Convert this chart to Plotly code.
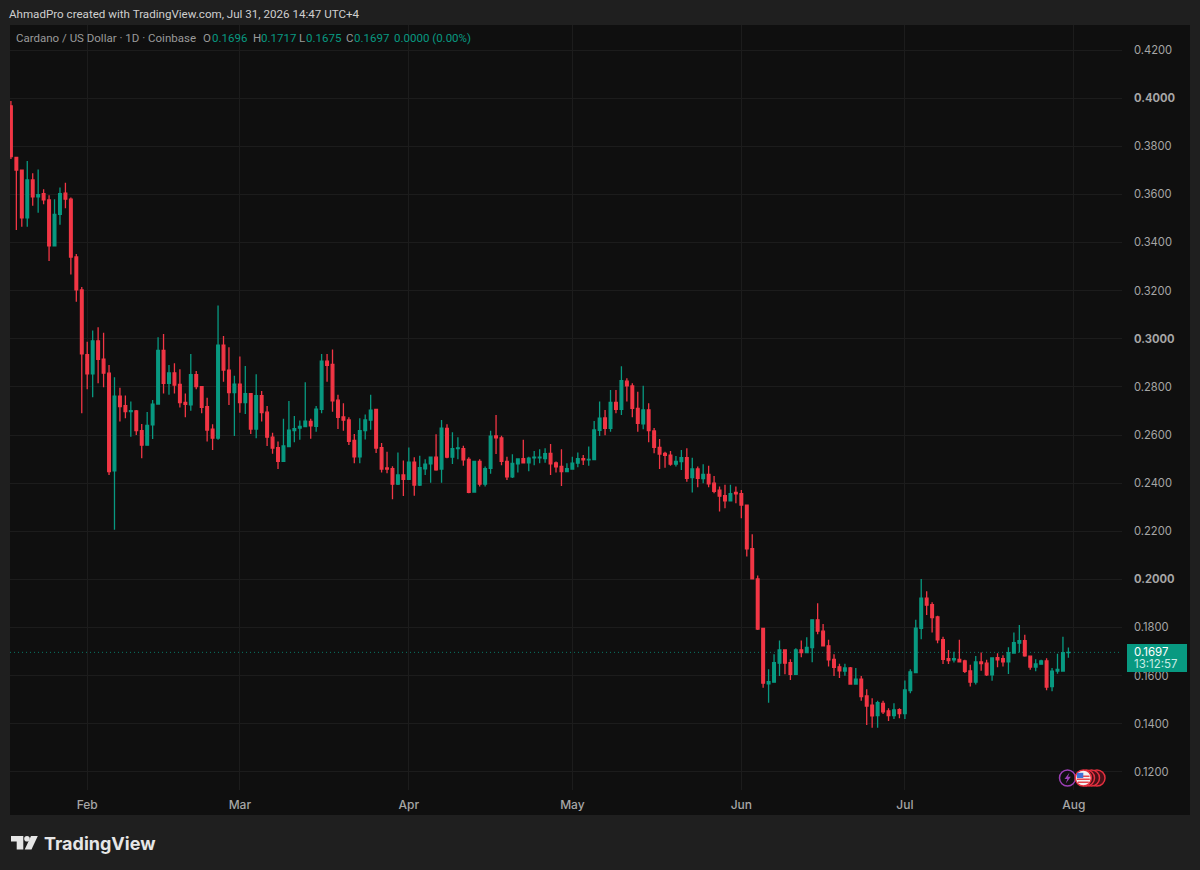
import pandas as pd
import plotly.graph_objects as go

first_day = "2026-01-18"

opens = [
    .3968, .3754, .3701, .3503, .3660, .3590, .3603, .3577, .3386, .3517,
    .3605, .3580, .3340, .3203, .2934, .2854, .2991, .2915, .2857, .2451,
    .2762, .2722, .2697, .2700, .2618, .2558, .2642, .2729, .2952, .2815,
    .2858, .2811, .2736, .2726, .2851, .2801, .2718, .2625, .2587, .2974,
    .2870, .2776, .2812, .2735, .2772, .2625, .2764, .2695, .2591, .2548,
    .2491, .2552, .2618, .2629, .2635, .2657, .2636, .2707, .2907, .2894,
    .2745, .2675, .2663, .2578, .2509, .2618, .2662, .2707, .2548, .2463,
    .2460, .2396, .2434, .2416, .2487, .2392, .2460, .2480, .2508, .2459,
    .2628, .2508, .2544, .2544, .2499, .2363, .2490, .2396, .2462, .2596,
    .2588, .2491, .2426, .2480, .2502, .2485, .2505, .2505, .2502, .2524,
    .2484, .2470, .2448, .2459, .2483, .2502, .2497, .2498, .2620, .2671,
    .2628, .2736, .2707, .2824, .2804, .2711, .2647, .2705, .2617, .2549,
    .2524, .2517, .2479, .2490, .2506, .2423, .2459, .2419, .2436, .2400,
    .2371, .2348, .2327, .2362, .2356, .2309, .2128, .2002, .1797, .1566,
    .1573, .1652, .1707, .1654, .1606, .1707, .1696, .1717, .1832, .1785,
    .1724, .1668, .1637, .1619, .1632, .1565, .1586, .1516, .1478, .1434,
    .1485, .1454, .1434, .1459, .1442, .1538, .1613, .1797, .1922, .1895,
    .1844, .1750, .1671, .1666, .1668, .1661, .1620, .1573, .1657, .1652,
    .1604, .1675, .1671, .1658, .1694, .1735, .1746, .1681, .1636, .1648,
    .1661, .1555, .1619, .1619, .1696,
]
highs = [
    .3988, .3755, .3702, .3739, .3688, .3704, .3621, .3597, .3580, .3629,
    .3648, .3587, .3352, .3215, .2988, .3034, .3048, .3025, .2891, .2840,
    .2797, .2764, .2739, .2704, .2646, .2696, .2746, .3006, .3020, .2891,
    .2898, .2873, .2773, .2937, .2866, .2804, .2755, .2645, .3138, .3012,
    .2965, .2846, .2926, .2887, .2774, .2853, .2783, .2721, .2610, .2573,
    .2668, .2742, .2679, .2660, .2819, .2668, .2721, .2937, .2937, .2956,
    .2767, .2732, .2674, .2604, .2670, .2685, .2768, .2707, .2567, .2531,
    .2470, .2527, .2494, .2548, .2508, .2514, .2499, .2508, .2603, .2663,
    .2645, .2612, .2591, .2556, .2508, .2490, .2499, .2469, .2618, .2683,
    .2597, .2510, .2520, .2503, .2580, .2510, .2534, .2541, .2545, .2563,
    .2490, .2541, .2483, .2510, .2527, .2517, .2552, .2658, .2739, .2704,
    .2787, .2787, .2886, .2836, .2815, .2780, .2805, .2732, .2629, .2584,
    .2531, .2534, .2513, .2538, .2545, .2506, .2469, .2479, .2472, .2430,
    .2386, .2393, .2393, .2386, .2372, .2309, .2188, .2016, .1797, .1627,
    .1689, .1746, .1707, .1668, .1714, .1746, .1760, .1835, .1901, .1815,
    .1749, .1689, .1650, .1650, .1636, .1632, .1599, .1544, .1506, .1496,
    .1496, .1465, .1485, .1465, .1580, .1627, .1832, .2002, .1951, .1905,
    .1849, .1762, .1707, .1700, .1749, .1666, .1645, .1682, .1696, .1666,
    .1675, .1693, .1685, .1718, .1779, .1811, .1770, .1681, .1668, .1666,
    .1673, .1632, .1691, .1762, .1717,
]
lows = [
    .3747, .3452, .3466, .3466, .3553, .3524, .3559, .3323, .3386, .3474,
    .3542, .3267, .3154, .2691, .2790, .2757, .2815, .2799, .2434, .2206,
    .2656, .2670, .2593, .2600, .2504, .2558, .2584, .2729, .2773, .2767,
    .2773, .2715, .2674, .2701, .2790, .2691, .2573, .2538, .2580, .2822,
    .2725, .2596, .2693, .2688, .2604, .2587, .2656, .2555, .2522, .2459,
    .2491, .2552, .2570, .2580, .2635, .2585, .2614, .2691, .2822, .2697,
    .2625, .2618, .2559, .2483, .2483, .2582, .2622, .2525, .2444, .2441,
    .2333, .2392, .2347, .2413, .2348, .2388, .2434, .2402, .2452, .2402,
    .2504, .2480, .2499, .2472, .2358, .2361, .2386, .2386, .2439, .2521,
    .2474, .2413, .2422, .2444, .2483, .2450, .2475, .2483, .2485, .2434,
    .2444, .2388, .2447, .2458, .2466, .2476, .2472, .2498, .2596, .2599,
    .2614, .2691, .2683, .2739, .2674, .2614, .2624, .2570, .2524, .2459,
    .2464, .2472, .2469, .2455, .2406, .2361, .2383, .2400, .2383, .2358,
    .2282, .2296, .2326, .2317, .2254, .2095, .2001, .1790, .1550, .1488,
    .1571, .1599, .1606, .1582, .1606, .1677, .1696, .1656, .1772, .1721,
    .1638, .1599, .1590, .1600, .1563, .1563, .1496, .1395, .1384, .1384,
    .1441, .1412, .1420, .1423, .1420, .1527, .1610, .1751, .1852, .1780,
    .1735, .1649, .1649, .1655, .1656, .1611, .1555, .1563, .1621, .1599,
    .1579, .1635, .1638, .1607, .1694, .1696, .1679, .1625, .1618, .1645,
    .1539, .1535, .1608, .1618, .1675,
]
closes = [
    .3757, .3701, .3503, .3660, .3590, .3599, .3577, .3386, .3517, .3603,
    .3580, .3340, .3203, .2937, .2854, .2991, .2915, .2857, .2448, .2762,
    .2718, .2697, .2701, .2618, .2558, .2640, .2728, .2952, .2815, .2858,
    .2808, .2735, .2728, .2851, .2801, .2715, .2621, .2587, .2974, .2870,
    .2776, .2812, .2735, .2772, .2625, .2764, .2693, .2591, .2546, .2491,
    .2555, .2620, .2627, .2636, .2658, .2638, .2708, .2907, .2890, .2742,
    .2674, .2662, .2574, .2509, .2618, .2663, .2704, .2546, .2459, .2459,
    .2396, .2434, .2416, .2487, .2392, .2465, .2479, .2508, .2455, .2629,
    .2508, .2544, .2547, .2497, .2362, .2490, .2396, .2460, .2595, .2588,
    .2491, .2426, .2482, .2501, .2484, .2504, .2508, .2508, .2523, .2480,
    .2468, .2448, .2460, .2483, .2502, .2497, .2499, .2621, .2670, .2628,
    .2736, .2707, .2826, .2804, .2711, .2649, .2705, .2618, .2549, .2521,
    .2516, .2479, .2491, .2506, .2420, .2459, .2420, .2436, .2397, .2366,
    .2346, .2327, .2356, .2356, .2309, .2127, .2002, .1794, .1569, .1575,
    .1654, .1707, .1652, .1606, .1707, .1696, .1718, .1832, .1785, .1724,
    .1666, .1635, .1620, .1632, .1565, .1586, .1513, .1474, .1433, .1488,
    .1450, .1434, .1458, .1442, .1541, .1616, .1798, .1922, .1893, .1841,
    .1749, .1668, .1663, .1671, .1658, .1618, .1573, .1657, .1650, .1603,
    .1674, .1666, .1658, .1696, .1737, .1746, .1682, .1636, .1649, .1661,
    .1553, .1619, .1626, .1696, .1697,
]

price_ticks = [.12, .14, .16, .18, .20, .22, .24, .26, .28, .30, .32, .34, .36, .38, .40, .42]
strong_ticks = [.20, .30, .40]
month_ticks = ["2026-02-01", "2026-03-01", "2026-04-01", "2026-05-01", "2026-06-01", "2026-07-01", "2026-08-01"]
month_labels = ["Feb", "Mar", "Apr", "May", "Jun", "Jul", "Aug"]
last_price = 0.1697
countdown = "13:12:57"

GREEN = "#089981"
RED = "#f23645"
FRAME = "#1f1f1f"
PANE = "#0f0f0f"
GRID = "#1c1c1c"
GREY = "#a6a6a6"
FONT = "Inter"

W, H = 1200, 870
LEFT, RIGHT, TOP, BOTTOM = 10, 1122, 25, 790


# helpers for things outside the data area, given in page pixels
def fx(px):
    return (px - LEFT) / (RIGHT - LEFT)


def fy(py):
    return (BOTTOM - py) / (BOTTOM - TOP)


def rect(x0, y0, x1, y1, color, layer="above"):
    return dict(type="rect", xref="paper", yref="paper", x0=fx(x0), y0=fy(y0), x1=fx(x1), y1=fy(y1),
                fillcolor=color, line_width=0, layer=layer)


def circle(cx, cy, r, fill, line, width=1.5):
    return dict(type="circle", xref="paper", yref="paper", x0=fx(cx - r), y0=fy(cy + r), x1=fx(cx + r), y1=fy(cy - r),
                fillcolor=fill, line=dict(color=line, width=width), layer="above")


def poly(points, color):
    path = "M " + " L ".join(f"{fx(a):.5f},{fy(b):.5f}" for a, b in points) + " Z"
    return dict(type="path", xref="paper", yref="paper", path=path, fillcolor=color, line_width=0, layer="above")


def label(px, py, text, size=12, color=GREY, family="Roboto", **kw):
    return dict(xref="paper", yref="paper", x=fx(px), y=fy(py), text=text, showarrow=False, xanchor="left",
                yanchor="middle", align="left", borderpad=0, borderwidth=0,
                font=dict(family=family, size=size, color=color), **kw)


dates = pd.date_range(first_day, periods=len(opens), freq="D")

fig = go.Figure()
fig.add_trace(go.Candlestick(x=dates, open=opens, high=highs, low=lows, close=closes,
                             increasing=dict(line=dict(color=GREEN, width=1.3), fillcolor=GREEN),
                             decreasing=dict(line=dict(color=RED, width=1.3), fillcolor=RED),
                             whiskerwidth=0, hoverinfo="skip", showlegend=False))

shapes = [rect(LEFT, TOP, 1190, 815, PANE, layer="below")]
shapes.append(dict(type="line", xref="paper", yref="y", x0=0, x1=1, y0=last_price, y1=last_price,
                   line=dict(color="rgba(8,153,129,0.75)", width=1, dash="1px,3px"), layer="below"))
# price tag
shapes.append(rect(1127, 644, 1187, 672, GREEN))
# events, bottom right
shapes.append(circle(1067.5, 778, 8, PANE, "#9c3fb5"))
shapes.append(poly([(1069.5, 772.5), (1064.5, 779), (1067.3, 779), (1065.8, 783.5), (1070.8, 776.8), (1068, 776.8)], "#9c3fb5"))
for cx in [1097, 1091.5, 1086.5]:
    shapes.append(circle(cx, 778, 8, "#4a1018", "#e5303f"))
shapes.append(circle(1083.3, 778, 8, "#f2f2f2", "#e5303f"))
shapes.append(rect(1077, 775.5, 1089.5, 777, "#e5464f"))
shapes.append(rect(1077, 778.5, 1089.8, 780, "#e5464f"))
shapes.append(rect(1078, 781.5, 1088.8, 783, "#e5464f"))
shapes.append(rect(1077, 772.8, 1083.3, 778, "#3c6fd6"))
# logo
shapes.append(poly([(11, 836), (23.3, 836), (23.3, 849.5), (16.7, 849.5), (16.7, 841.5), (11, 841.5)], "#e6e6e6"))
shapes.append(circle(27, 838.8, 2.8, "#e6e6e6", "#e6e6e6", 0))
shapes.append(poly([(31, 836), (37.8, 836), (31.5, 849.5), (24.7, 849.5)], "#e6e6e6"))

LEG = 11.5
annotations = [
    label(9, 14, "AhmadPro created with TradingView.com, Jul 31, 2026 14:47 UTC+4", size=11.6, color="#cfcfcf"),
    label(16, 38, "Cardano / US Dollar · 1D · Coinbase", size=LEG, color="#9a9a9a"),
    label(203, 38, "O", size=LEG, color="#9a9a9a"),
    label(212, 38, "0.1696", size=LEG, color=GREEN),
    label(253, 38, "H", size=LEG, color="#9a9a9a"),
    label(261, 38, "0.1717", size=LEG, color=GREEN),
    label(299, 38, "L", size=LEG, color="#9a9a9a"),
    label(306, 38, "0.1675", size=LEG, color=GREEN),
    label(346, 38, "C", size=LEG, color="#9a9a9a"),
    label(354, 38, "0.1697", size=LEG, color=GREEN),
    label(394, 38, "0.0000 (0.00%)", size=LEG, color=GREEN),
    label(1134, 651, f"{last_price:.4f}", size=11.5, color="#ffffff", family=FONT, height=11),
    label(1134, 663.5, countdown, size=11.5, color="#c9ece5", family=FONT, height=11),
    label(44, 843, "<b>TradingView</b>", size=18, color="#e6e6e6", family=FONT),
]

fig.update_layout(
    width=W, height=H,
    margin=dict(l=LEFT, r=W - RIGHT, t=TOP, b=H - BOTTOM, pad=0),
    paper_bgcolor=FRAME, plot_bgcolor=PANE,
    font=dict(family=FONT, size=12, color=GREY),
    showlegend=False, hovermode=False,
    shapes=shapes, annotations=annotations,
    xaxis=dict(type="date", range=["2026-01-17 20:00", "2026-08-09 20:00"], rangeslider=dict(visible=False),
               tickmode="array", tickvals=month_ticks, ticktext=month_labels, ticks="", showline=False,
               gridcolor=GRID, gridwidth=1, zeroline=False, ticklabelstandoff=6,
               tickfont=dict(family=FONT, size=12, color=GREY, weight=500)),
    yaxis=dict(side="right", range=[0.1125, 0.4304], tickmode="array", tickvals=price_ticks,
               ticktext=[f"<b>{t:.4f}</b>" if t in strong_ticks else f"{t:.4f}" for t in price_ticks],
               ticks="", showline=False, gridcolor=GRID, gridwidth=1, zeroline=False, ticklabelstandoff=11,
               tickfont=dict(family=FONT, size=11.2, color=GREY)),
)

fig.write_html("out.html", config={"displayModeBar": False},
               post_script="document.body.style.margin='0';document.body.style.overflow='hidden';")
